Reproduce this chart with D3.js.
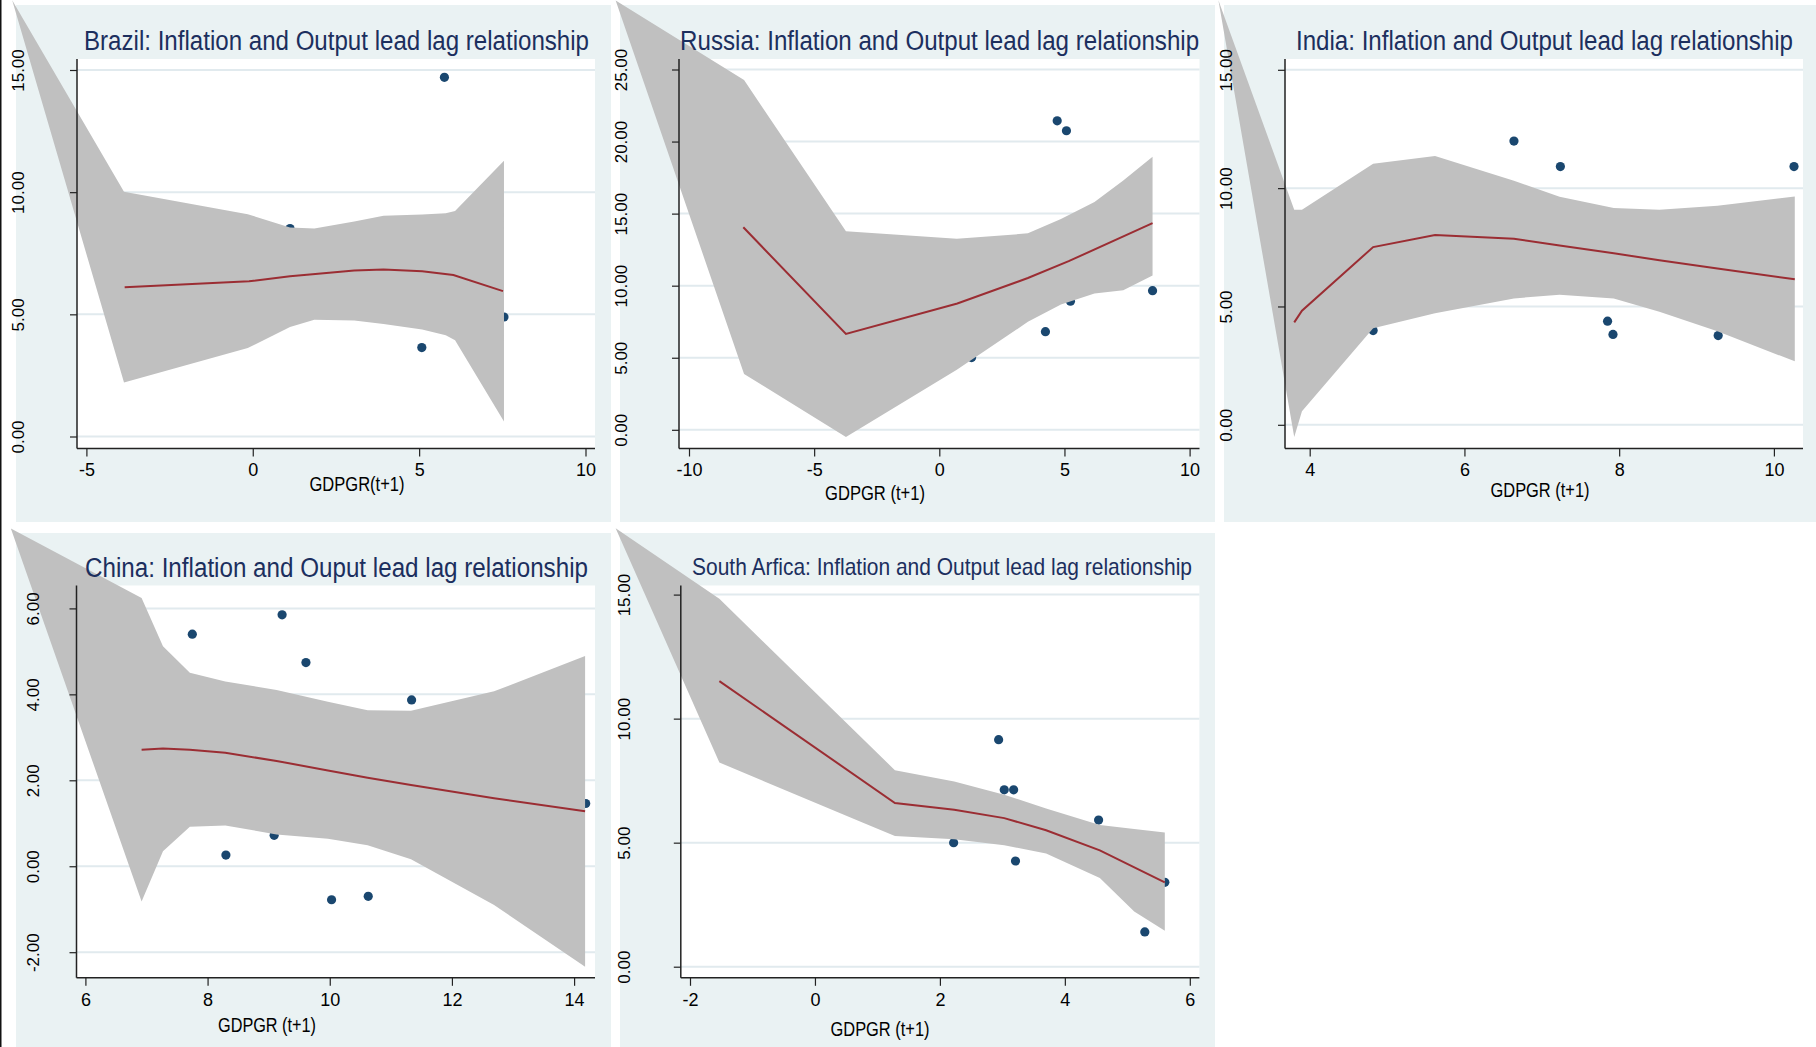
<!DOCTYPE html>
<html>
<head>
<meta charset="utf-8">
<script src="https://cdn.jsdelivr.net/npm/d3@7"></script>
<style>
  body { margin: 0; background: #fff; }
  svg { display: block; }
</style>
</head>
<body>
<div id="chart"></div>
<script>
// ---- data ----
// Brazil
const brazilXTicks = [-5, 0, 5, 10];
const brazilYTicks = [0, 5, 10, 15];
const brazilScatterX = [5.76, 5.08, 7.55, 1.12];
const brazilScatterY = [14.70, 3.64, 4.89, 8.51];
const brazilFitX = [-3.85, -0.11, 1.12, 1.88, 3.05, 3.93, 5.09, 6.03, 7.52];
const brazilFitY = [6.11, 6.35, 6.56, 6.65, 6.79, 6.83, 6.76, 6.61, 5.95];
const brazilBandX = [-7.23, -3.87, -0.15, 1.12, 1.85, 3.05, 3.93, 5.09, 5.80, 6.08, 7.55];
const brazilBandHi = [17.85, 10.02, 9.10, 8.55, 8.51, 8.80, 9.03, 9.09, 9.14, 9.23, 11.29];
const brazilBandLo = [17.85, 2.21, 3.62, 4.48, 4.78, 4.75, 4.60, 4.38, 4.14, 3.94, 0.61];

// Russia
const russiaXTicks = [-10, -5, 0, 5, 10];
const russiaYTicks = [0, 5, 10, 15, 20, 25];
const russiaScatterX = [4.71, 5.08, 4.24, 5.24, 8.52, 1.29];
const russiaScatterY = [21.44, 20.75, 6.81, 8.92, 9.65, 5.01];
const russiaFitX = [-7.83, -3.73, 0.72, 3.54, 5.17, 8.52];
const russiaFitY = [14.05, 6.65, 8.76, 10.53, 11.70, 14.34];
const russiaBandX = [-12.93, -7.80, -3.73, 0.70, 3.54, 4.86, 6.20, 7.35, 8.52];
const russiaBandHi = [29.79, 24.27, 13.77, 13.25, 13.63, 14.62, 15.80, 17.30, 18.94];
const russiaBandLo = [29.79, 3.87, -0.50, 4.16, 7.49, 8.70, 9.45, 9.68, 10.71];

// India
const indiaXTicks = [4, 6, 8, 10];
const indiaYTicks = [0, 5, 10, 15];
const indiaScatterX = [6.64, 7.24, 10.26, 7.85, 7.92, 9.28, 4.82];
const indiaScatterY = [11.99, 10.91, 10.91, 4.38, 3.82, 3.77, 3.98];
const indiaFitX = [3.80, 3.90, 4.82, 5.62, 6.64, 7.23, 7.93, 8.52, 9.27, 10.27];
const indiaFitY = [4.33, 4.82, 7.51, 8.02, 7.86, 7.58, 7.25, 6.95, 6.60, 6.15];
const indiaBandX = [2.82, 3.80, 3.90, 4.82, 5.62, 6.64, 7.23, 7.93, 8.52, 9.27, 10.27];
const indiaBandHi = [17.94, 9.09, 9.09, 11.03, 11.36, 10.31, 9.64, 9.16, 9.09, 9.26, 9.65];
const indiaBandLo = [17.94, -0.52, 0.57, 4.08, 4.71, 5.34, 5.50, 5.34, 4.78, 3.95, 2.68];

// China
const chinaXTicks = [6, 8, 10, 12, 14];
const chinaYTicks = [-2, 0, 2, 4, 6];
const chinaScatterX = [7.75, 9.22, 9.61, 11.34, 14.19, 8.30, 9.09, 10.03, 10.63];
const chinaScatterY = [5.40, 5.85, 4.74, 3.87, 1.46, 0.26, 0.72, -0.78, -0.70];
const chinaFitX = [6.92, 7.27, 7.71, 8.29, 9.13, 9.97, 10.62, 11.33, 12.69, 14.18];
const chinaFitY = [2.71, 2.74, 2.71, 2.64, 2.45, 2.23, 2.06, 1.89, 1.58, 1.28];
const chinaBandX = [4.78, 6.92, 7.27, 7.71, 8.29, 9.13, 9.97, 10.62, 11.33, 12.69, 14.18];
const chinaBandHi = [7.86, 6.24, 5.12, 4.50, 4.30, 4.10, 3.83, 3.63, 3.62, 4.07, 4.89];
const chinaBandLo = [7.86, -0.82, 0.35, 0.92, 0.95, 0.74, 0.64, 0.49, 0.16, -0.90, -2.34];

// South Africa
const safXTicks = [-2, 0, 2, 4, 6];
const safYTicks = [0, 5, 10, 15];
const safScatterX = [2.94, 3.03, 3.18, 2.22, 3.21, 4.54, 5.60, 5.28];
const safScatterY = [9.15, 7.13, 7.13, 5.00, 4.26, 5.91, 3.40, 1.40];
const safFitX = [-1.53, 1.28, 2.23, 3.03, 3.70, 4.56, 5.60];
const safFitY = [11.51, 6.60, 6.33, 5.99, 5.50, 4.69, 3.40];
const safBandX = [-3.19, -1.53, 0.76, 1.28, 2.23, 3.03, 3.70, 4.56, 5.11, 5.60];
const safBandHi = [17.67, 14.83, 9.20, 7.92, 7.47, 6.93, 6.38, 5.71, 5.55, 5.41];
const safBandLo = [17.67, 8.23, 5.81, 5.27, 5.14, 4.90, 4.56, 3.58, 2.23, 1.45];

// ---- layout ----
const width = 1816, height = 1047;
const bg = "#eaf2f3", bandColor = "#c0c0c0", dotColor = "#1a476f",
      lineColor = "#9b2d33", titleColor = "#1c2f5e", gridColor = "#e1eaee";
const narrow = "'Liberation Sans Narrow', 'Liberation Sans', Arial, sans-serif";
const regular = "'Liberation Sans', Arial, sans-serif";

const panels = [
  { title: "Brazil: Inflation and Output lead lag relationship", xTitle: "GDPGR(t+1)",
    box: [16, 5, 595, 517], left: 77, right: 595, top: 59, bottom: 448.5,
    xRange: [86.4, 585.5], yRange: [436.5, 70], yLabelOff: -53.5,
    titleX: 336.5, titleY: 50, titleW: 505, titleSize: 27, xtX: 357, xtY: 491, xtW: 95,
    xTicks: brazilXTicks, yTicks: brazilYTicks, sx: brazilScatterX, sy: brazilScatterY,
    fx: brazilFitX, fy: brazilFitY, bx: brazilBandX, bhi: brazilBandHi, blo: brazilBandLo },
  { title: "Russia: Inflation and Output lead lag relationship", xTitle: "GDPGR (t+1)",
    box: [620, 5, 595, 517], left: 679, right: 1199.5, top: 59, bottom: 448.5,
    xRange: [689, 1189.6], yRange: [429.8, 69.5], yLabelOff: -52.5,
    titleX: 939.6, titleY: 50, titleW: 519, titleSize: 27, xtX: 875, xtY: 500, xtW: 100,
    xTicks: russiaXTicks, yTicks: russiaYTicks, sx: russiaScatterX, sy: russiaScatterY,
    fx: russiaFitX, fy: russiaFitY, bx: russiaBandX, bhi: russiaBandHi, blo: russiaBandLo },
  { title: "India: Inflation and Output lead lag relationship", xTitle: "GDPGR (t+1)",
    box: [1224, 5, 592, 517], left: 1285, right: 1803, top: 59, bottom: 448.5,
    xRange: [1309.7, 1773.9], yRange: [424.8, 69.8], yLabelOff: -53,
    titleX: 1544.5, titleY: 50, titleW: 497, titleSize: 27, xtX: 1540, xtY: 497, xtW: 99,
    xTicks: indiaXTicks, yTicks: indiaYTicks, sx: indiaScatterX, sy: indiaScatterY,
    fx: indiaFitX, fy: indiaFitY, bx: indiaBandX, bhi: indiaBandHi, blo: indiaBandLo },
  { title: "China: Inflation and Ouput lead lag relationship", xTitle: "GDPGR (t+1)",
    box: [16, 533, 595, 514], left: 76.5, right: 595, top: 585.5, bottom: 977.8,
    xRange: [85.4, 574.1], yRange: [952.2, 608.4], yLabelOff: -38,
    titleX: 336.5, titleY: 577, titleW: 503, titleSize: 27, xtX: 267, xtY: 1032, xtW: 98,
    xTicks: chinaXTicks, yTicks: chinaYTicks, sx: chinaScatterX, sy: chinaScatterY,
    fx: chinaFitX, fy: chinaFitY, bx: chinaBandX, bhi: chinaBandHi, blo: chinaBandLo },
  { title: "South Arfica: Inflation and Output lead lag relationship", xTitle: "GDPGR (t+1)",
    box: [620, 533, 595, 514], left: 680.8, right: 1199.4, top: 585.5, bottom: 977.8,
    xRange: [690, 1189.8], yRange: [966.7, 594.6], yLabelOff: -51,
    titleX: 942, titleY: 575, titleW: 500, titleSize: 24, xtX: 880, xtY: 1036, xtW: 99,
    xTicks: safXTicks, yTicks: safYTicks, sx: safScatterX, sy: safScatterY,
    fx: safFitX, fy: safFitY, bx: safBandX, bhi: safBandHi, blo: safBandLo }
];

const svg = d3.select("#chart").append("svg")
  .attr("width", width).attr("height", height);

svg.append("rect").attr("width", width).attr("height", height).attr("fill", "#fff");

// panel backgrounds first, so bands can spill over the gaps
panels.forEach(p => {
  svg.append("rect")
    .attr("x", p.box[0]).attr("y", p.box[1])
    .attr("width", p.box[2]).attr("height", p.box[3])
    .attr("fill", bg);
});

panels.forEach(p => {
  const x = d3.scaleLinear()
    .domain([p.xTicks[0], p.xTicks[p.xTicks.length - 1]])
    .range(p.xRange);
  const y = d3.scaleLinear()
    .domain([p.yTicks[0], p.yTicks[p.yTicks.length - 1]])
    .range(p.yRange);

  const g = svg.append("g");

  // white plot region
  g.append("rect")
    .attr("x", p.left).attr("y", p.top)
    .attr("width", p.right - p.left).attr("height", p.bottom - p.top)
    .attr("fill", "#fff");

  // gridlines
  g.append("g").selectAll("line")
    .data(p.yTicks)
    .join("line")
    .attr("x1", p.left).attr("x2", p.right)
    .attr("y1", d => y(d)).attr("y2", d => y(d))
    .attr("stroke", gridColor).attr("stroke-width", 2);

  // scatter (sits under the band)
  g.append("g").selectAll("circle")
    .data(p.sx.map((v, i) => [v, p.sy[i]]))
    .join("circle")
    .attr("cx", d => x(d[0])).attr("cy", d => y(d[1]))
    .attr("r", 4.6)
    .attr("fill", dotColor);

  // confidence band
  const area = d3.area()
    .x(i => x(p.bx[i]))
    .y0(i => y(p.blo[i]))
    .y1(i => y(p.bhi[i]));
  g.append("path")
    .datum(d3.range(p.bx.length))
    .attr("d", area)
    .attr("fill", bandColor);

  // fitted line
  const line = d3.line()
    .x(i => x(p.fx[i]))
    .y(i => y(p.fy[i]));
  g.append("path")
    .datum(d3.range(p.fx.length))
    .attr("d", line)
    .attr("fill", "none")
    .attr("stroke", lineColor)
    .attr("stroke-width", 2);

  // axes (plain hyphen minus, like the original)
  const xAxis = g.append("g")
    .attr("transform", `translate(0,${p.bottom})`)
    .call(d3.axisBottom(x).tickValues(p.xTicks).tickSize(8).tickSizeOuter(0).tickPadding(7)
      .tickFormat(d => String(d)));
  xAxis.select(".domain").remove();
  xAxis.selectAll("line").attr("stroke", "#222").attr("stroke-width", 1.2);
  xAxis.selectAll("text")
    .attr("font-family", narrow).attr("font-size", 18).attr("fill", "#000");

  const yAxis = g.append("g")
    .attr("transform", `translate(${p.left},0)`)
    .call(d3.axisLeft(y).tickValues(p.yTicks).tickSize(7).tickSizeOuter(0)
      .tickFormat(d => d.toFixed(2)));
  yAxis.select(".domain").remove();
  yAxis.selectAll("line").attr("stroke", "#222").attr("stroke-width", 1.2);
  yAxis.selectAll("text")
    .attr("x", 0).attr("dy", 0)
    .attr("text-anchor", "middle")
    .attr("transform", `translate(${p.yLabelOff},0) rotate(-90)`)
    .attr("font-family", regular).attr("font-size", 17).attr("fill", "#000");

  // axis lines
  g.append("line")
    .attr("x1", p.left).attr("x2", p.left)
    .attr("y1", p.top).attr("y2", p.bottom)
    .attr("stroke", "#222").attr("stroke-width", 1.5);
  g.append("line")
    .attr("x1", p.left).attr("x2", p.right)
    .attr("y1", p.bottom).attr("y2", p.bottom)
    .attr("stroke", "#222").attr("stroke-width", 1.5);

  // titles
  g.append("text")
    .attr("x", p.titleX).attr("y", p.titleY)
    .attr("text-anchor", "middle")
    .attr("font-family", narrow).attr("font-size", p.titleSize)
    .attr("fill", titleColor)
    .attr("textLength", p.titleW).attr("lengthAdjust", "spacingAndGlyphs")
    .text(p.title);

  g.append("text")
    .attr("x", p.xtX).attr("y", p.xtY)
    .attr("text-anchor", "middle")
    .attr("font-family", narrow).attr("font-size", 20)
    .attr("fill", "#000")
    .attr("textLength", p.xtW).attr("lengthAdjust", "spacingAndGlyphs")
    .text(p.xTitle);
});

// thin dark edge on the far left of the picture
svg.append("rect").attr("x", 0).attr("y", 0).attr("width", 1.5).attr("height", height).attr("fill", "#111");
</script>
</body>
</html>
